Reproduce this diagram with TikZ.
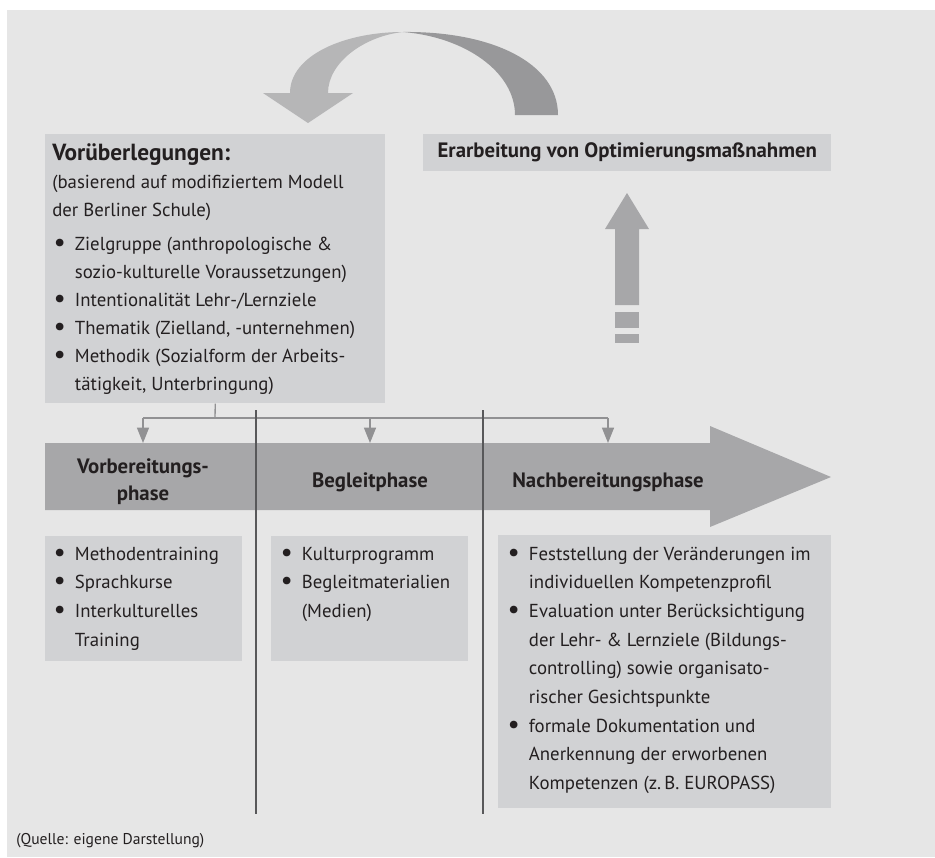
\documentclass[tikz,border=0pt]{standalone}
\usepackage{fontspec}
\setmainfont{PT Sans}
\usetikzlibrary{arrows.meta}
\definecolor{bggray}{RGB}{230,230,230}
\definecolor{boxgray}{RGB}{209,210,212}
\definecolor{bandgray}{RGB}{167,167,169}
\definecolor{lightarc}{RGB}{182,182,183}
\definecolor{darkarc}{RGB}{152,152,154}
\definecolor{linegray}{RGB}{145,145,147}
\definecolor{divgray}{RGB}{88,88,90}
\definecolor{txtgray}{RGB}{35,31,32}
\newlength{\bulw}\setlength{\bulw}{17pt}
\newcommand{\itm}[1]{\makebox[\bulw][l]{\hspace{1pt}\raisebox{-0.9pt}{\scalebox{1.45}{\textbullet}}}#1}
\newcommand{\cnt}[1]{\hspace*{\bulw}#1}
\tikzset{
  box/.style={fill=boxgray, draw=none, inner sep=0pt, anchor=north west},
  listtxt/.style={anchor=base west, inner sep=0pt, text=txtgray, font=\fontsize{14.1}{21.5}\selectfont},
  phasetxt/.style={inner sep=0pt, align=center, text=txtgray, font=\fontsize{15.6}{20.25}\selectfont\bfseries},
  feed/.style={draw=linegray, line width=1pt, -{Triangle[width=9pt,length=11.5pt]}},
  bus/.style={draw=linegray, line width=1pt},
  divider/.style={draw=divgray, line width=1.8pt},
}
\begin{document}
\begin{tikzpicture}[x=0.75pt,y=0.75pt,yscale=-1,xscale=1]
\useasboundingbox (0,0) rectangle (935,857);
%Shape: Background
\fill [white] (0,0) rectangle (935,857);
\fill [bggray] (7,10) rectangle (935,857);

%Shape: Curved Arrow (left, light)
\fill [lightarc] (290,93) .. controls (290,55) and (345,32) .. (403,32) .. controls (365,36) and (328,62) .. (328,93) -- (353,93) -- (308,123) -- (263,93) -- cycle ;
%Shape: Curved Arrow (right, dark)
\fill [darkarc] (403,32) .. controls (492,31) and (558,63) .. (558,115) -- (515,115) .. controls (515,72) and (465,37) .. (403,32) -- cycle ;

%Shape: Rectangle
\node [box, minimum width=255pt, minimum height=201.75pt] (vorbox) at (45,134) {};
%Shape: Rectangle
\node [box, minimum width=306pt, minimum height=27.75pt, text=txtgray, font=\fontsize{15.6}{18}\selectfont\bfseries] (erarb) at (423,134) {Erarbeitung von Optimierungsmaßnahmen};

%Shape: Up Arrow
\fill [bandgray] (615,305) -- (615,229) -- (605,229) -- (627,193) -- (649,229) -- (639,229) -- (639,305) -- cycle ;
\fill [bandgray] (615,312) rectangle (639,328) ;
\fill [bandgray] (615,334) rectangle (639,343) ;

% Text Node
\node [listtxt, font=\fontsize{14.1}{21}\selectfont] (vortxt) at (52,160) {\begin{tabular}[t]{@{}l@{}}
{\fontsize{17.5}{21}\selectfont\bfseries Vorüberlegungen:}\\
(basierend auf modifiziertem Modell\\
der Berliner Schule)\\[4.5pt]
\itm{Zielgruppe (anthropologische \&}\\
\cnt{sozio-kulturelle Voraussetzungen)}\\
\itm{Intentionalität Lehr-/Lernziele}\\
\itm{Thematik (Zielland, -unternehmen)}\\
\itm{Methodik (Sozialform der Arbeits-}\\
\cnt{tätigkeit, Unterbringung)}
\end{tabular}};

%Shape: Phase Arrow
\fill [bandgray] (45,443) -- (710,443) -- (710,426) -- (831,477) -- (710,527) -- (710,510) -- (45,510) -- cycle ;
\coordinate (bandtop) at (45,443);
\coordinate (busline) at (215,418);

% Text Node
\node [phasetxt] (vorphase) at (143,482) {Vorbereitungs-\\phase};
% Text Node
\node [phasetxt] (begphase) at (370,482) {Begleitphase};
% Text Node
\node [phasetxt] (nachphase) at (608,482) {Nachbereitungsphase};

%Straight Lines
\draw [bus] (vorbox.south) -- (busline) ;
\draw [bus] (vorphase |- busline) -- (nachphase |- busline) ;
\draw [feed] (vorphase |- busline) -- (vorphase |- bandtop) ;
\draw [feed] (begphase |- busline) -- (begphase |- bandtop) ;
\draw [feed] (nachphase |- busline) -- (nachphase |- bandtop) ;

%Shape: Rectangle
\node [box, minimum width=147.75pt, minimum height=93.75pt] (box1) at (45,536) {};
\node [box, minimum width=147.75pt, minimum height=93.75pt] (box2) at (271,536) {};
\node [box, minimum width=249.75pt, minimum height=204.75pt] (box3) at (498,535) {};

%Straight Lines
\draw [divider] (256,410) -- (256,814) ;
\draw [divider] (483,410) -- (483,814) ;

% Text Node
\node [listtxt] (list1) at (52,560) {\begin{tabular}[t]{@{}l@{}}
\itm{Methodentraining}\\
\itm{Sprachkurse}\\
\itm{Interkulturelles}\\
\cnt{Training}
\end{tabular}};
% Text Node
\node [listtxt] (list2) at (279,560) {\begin{tabular}[t]{@{}l@{}}
\itm{Kulturprogramm}\\
\itm{Begleitmaterialien}\\
\cnt{(Medien)}
\end{tabular}};
% Text Node
\node [listtxt] (list3) at (506,560) {\begin{tabular}[t]{@{}l@{}}
\itm{Feststellung der Veränderungen im}\\
\cnt{individuellen Kompetenzprofil}\\
\itm{Evaluation unter Berücksichtigung}\\
\cnt{der Lehr- \& Lernziele (Bildungs-}\\
\cnt{controlling) sowie organisato-}\\
\cnt{rischer Gesichtspunkte}\\
\itm{formale Dokumentation und}\\
\cnt{Anerkennung der erworbenen}\\
\cnt{Kompetenzen (z.\,B. EUROPASS)}
\end{tabular}};

% Text Node
\node [anchor=base west, inner sep=0pt, text=txtgray, font=\fontsize{11.7}{14}\selectfont] (quelle) at (16,844) {(Quelle: eigene Darstellung)};
\end{tikzpicture}
\end{document}
